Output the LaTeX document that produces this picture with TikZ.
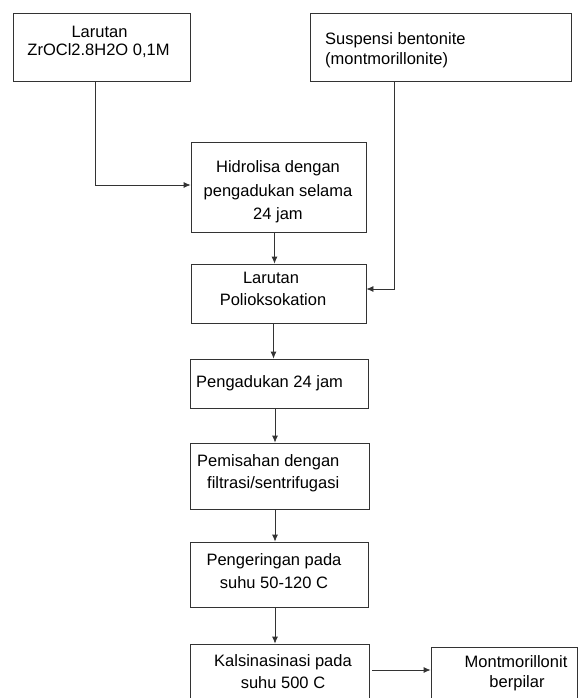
\documentclass[tikz,border=0pt]{standalone}
\usepackage{fontspec}
\setmainfont{Liberation Sans}
\usetikzlibrary{arrows.meta}
\begin{document}
\begin{tikzpicture}[x=1pt,y=-1pt,
  box/.style={draw=black!80, line width=0.8pt, rectangle, inner sep=0pt},
  txt/.style={inner sep=0pt, font=\fontsize{16.5}{19}\selectfont, text=black},
  arr/.style={draw=black!80, line width=0.8pt, -{Latex[length=7pt,width=6pt]}}]
\clip (0,0) rectangle (578,698);
\fill[white] (0,0) rectangle (578,698);
% boxes
\node[box, minimum width=177pt, minimum height=68pt] (b1) at (101.5,47) {};
\node[box, minimum width=261pt, minimum height=68pt] (b2) at (440.5,47) {};
\node[box, minimum width=175pt, minimum height=90pt] (hid) at (278.5,187) {};
\node[box, minimum width=175pt, minimum height=59pt] (pol) at (278.5,293.5) {};
\node[box, minimum width=178pt, minimum height=49pt] (pen) at (279,383.5) {};
\node[box, minimum width=179pt, minimum height=66pt] (pem) at (279.5,476) {};
\node[box, minimum width=178pt, minimum height=65pt] (ger) at (279,574.5) {};
\node[box, minimum width=179pt, minimum height=70pt] (kal) at (279.5,679) {};
\node[box, minimum width=146pt, minimum height=70pt] (mon) at (504,682) {};
% texts
\node[txt] (t1a) at (99.5,32) {Larutan};
\node[txt] (t1b) at (98.5,51) {ZrOCl2.8H2O 0,1M};
\node[txt, anchor=west] (t2a) at (325,40) {Suspensi bentonite};
\node[txt, anchor=west] (t2b) at (325,60) {(montmorillonite)};
\node[txt] (t3a) at (278,168) {Hidrolisa dengan};
\node[txt] (t3b) at (278,192) {pengadukan selama};
\node[txt] (t3c) at (278,215) {24 jam};
\node[txt] (t4a) at (271,278) {Larutan};
\node[txt] (t4b) at (273,300) {Polioksokation};
\node[txt, anchor=west] (t5) at (196,383) {Pengadukan 24 jam};
\node[txt, anchor=west] (t6a) at (197,462) {Pemisahan dengan};
\node[txt, anchor=west] (t6b) at (207,484) {filtrasi/sentrifugasi};
\node[txt] (t7a) at (274,561) {Pengeringan pada};
\node[txt] (t7b) at (274,583) {suhu 50-120 C};
\node[txt] (t8a) at (283,662) {Kalsinasinasi pada};
\node[txt] (t8b) at (283,683) {suhu 500 C};
\node[txt] (t9a) at (516,662) {Montmorillonit};
\node[txt] (t9b) at (517,683) {berpilar};
% connectors
\coordinate (c1) at (95,185);
\coordinate (c2) at (394,289);
\coordinate (c3) at (372,670);
\draw[arr] (b1.south -| c1) -- (c1) -- (hid.west |- c1);
\draw[arr] (b2.south -| c2) -- (c2) -- (pol.east |- c2);
\draw[arr] ([xshift=-4pt]hid.south) -- ([xshift=-4pt]pol.north);
\draw[arr] ([xshift=-5pt]pol.south) -- ([xshift=-5pt]pol.south |- pen.north);
\draw[arr] ([xshift=-4pt]pen.south) -- ([xshift=-4pt]pen.south |- pem.north);
\draw[arr] ([xshift=-4.5pt]pem.south) -- ([xshift=-4.5pt]pem.south |- ger.north);
\draw[arr] ([xshift=-4pt]ger.south) -- ([xshift=-4pt]ger.south |- kal.north);
\draw[arr] (c3) -- (mon.west |- c3);
\end{tikzpicture}
\end{document}
